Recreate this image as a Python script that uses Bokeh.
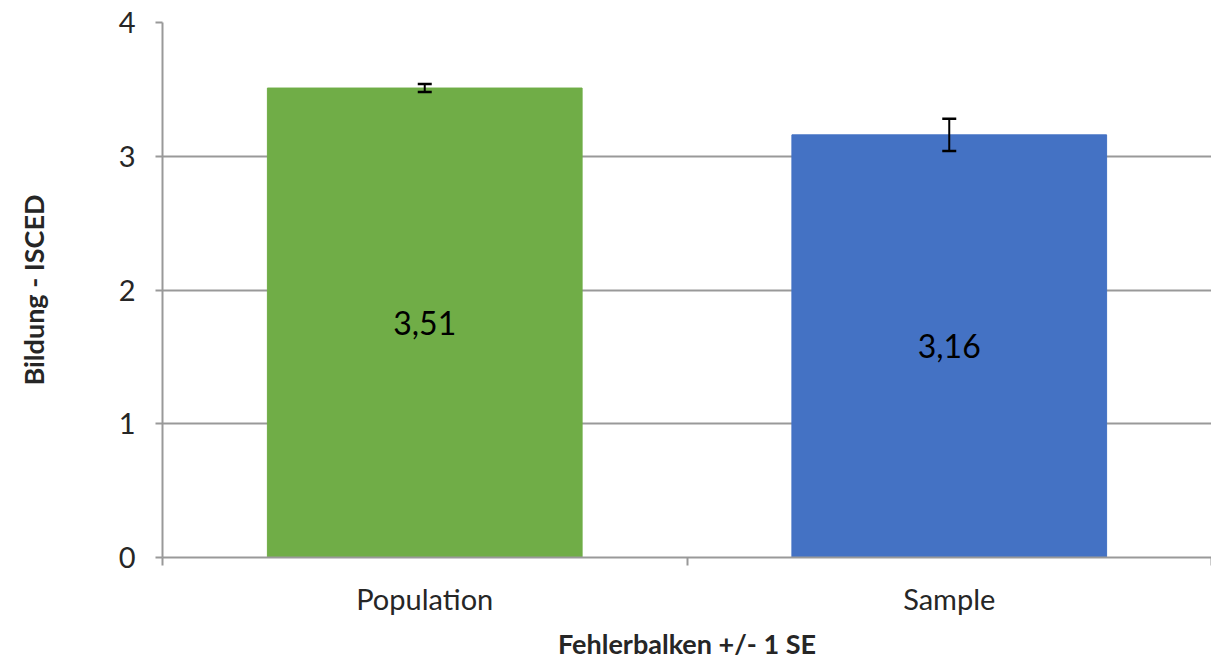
from bokeh.plotting import figure
from bokeh.models import ColumnDataSource, FixedTicker, Whisker, TeeHead, LabelSet, Range1d
from bokeh.core.properties import value
from bokeh.embed import file_html
from bokeh.resources import INLINE

categories = ["Population", "Sample"]
means = [3.51, 3.16]
se = [0.03, 0.12]
colors = ["#70AD47", "#4472C4"]
y_ticks = [0, 1, 2, 3, 4]

xpos = [i + 0.5 for i in range(len(categories))]
src = ColumnDataSource(dict(
    x=xpos, top=means, color=colors,
    upper=[m + s for m, s in zip(means, se)],
    lower=[m - s for m, s in zip(means, se)],
    mid=[m / 2 for m in means],
    label=[f"{m:.2f}".replace(".", ",") for m in means],
))

FONT = "Lato"
p = figure(width=1211, height=662, output_backend="svg", toolbar_location=None,
           x_range=Range1d(0, len(categories)), y_range=Range1d(0, 4),
           min_border_left=162, min_border_right=0, min_border_top=22, min_border_bottom=96)
p.outline_line_color = None
p.background_fill_color = "white"

p.vbar(x="x", top="top", width=0.6, color="color", source=src)
w = Whisker(base="x", upper="upper", lower="lower", source=src, level="overlay",
            line_color="black", line_width=2,
            upper_head=TeeHead(size=14, line_color="black", line_width=2.5),
            lower_head=TeeHead(size=14, line_color="black", line_width=2.5))
p.add_layout(w)
p.add_layout(LabelSet(x="x", y="mid", text="label", source=src, text_align="center",
                      text_baseline="middle", text_font=value(FONT), text_font_size="32px",
                      text_color="black"))

p.xaxis.ticker = FixedTicker(ticks=xpos, minor_ticks=list(range(len(categories) + 1)))
p.xaxis.major_label_overrides = {x: c for x, c in zip(xpos, categories)}
p.xaxis.major_tick_line_color = None
p.xaxis.minor_tick_in = 0
p.xaxis.minor_tick_out = 8
p.xaxis.minor_tick_line_color = "#999999"
p.xaxis.minor_tick_line_width = 2
p.xaxis.axis_line_color = "#999999"
p.xaxis.axis_line_width = 2
p.xaxis.major_label_standoff = 15
p.xaxis.axis_label = "Fehlerbalken +/- 1 SE"
p.xaxis.axis_label_standoff = 8
p.xgrid.grid_line_color = None

p.yaxis.ticker = FixedTicker(ticks=y_ticks, minor_ticks=[])
p.yaxis.major_tick_in = 0
p.yaxis.major_tick_out = 7
p.yaxis.major_tick_line_color = "#999999"
p.yaxis.major_tick_line_width = 2
p.yaxis.axis_line_color = "#999999"
p.yaxis.axis_line_width = 2
p.yaxis.major_label_standoff = 20
p.yaxis.axis_label = "Bildung - ISCED"
p.yaxis.axis_label_standoff = 66
p.ygrid.grid_line_color = "#999999"
p.ygrid.grid_line_width = 2

for ax in (p.xaxis, p.yaxis):
    ax.major_label_text_font = FONT
    ax.major_label_text_font_size = "29px"
    ax.major_label_text_color = "#262626"
    ax.axis_label_text_font = FONT
    ax.axis_label_text_font_size = "27px"
    ax.axis_label_text_font_style = "bold"
    ax.axis_label_text_color = "#262626"

open("out.html", "w").write(file_html(p, INLINE))
